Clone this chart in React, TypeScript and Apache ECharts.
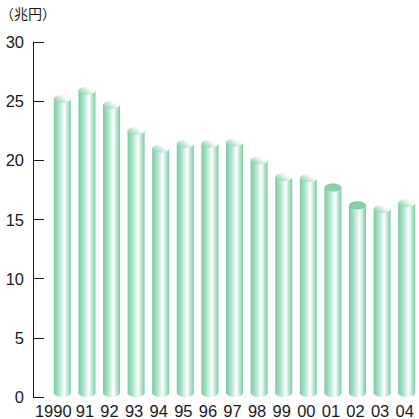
import React, { useEffect, useRef } from "react";
import * as echarts from "echarts";

const categories = ["1990", "91", "92", "93", "94", "95", "96", "97", "98", "99", "00", "01", "02", "03", "04"];
const values = [25.2, 25.9, 24.7, 22.5, 21.0, 21.4, 21.4, 21.5, 20.0, 18.6, 18.5, 17.7, 16.2, 15.9, 16.4];
const solidTopCategories = ["01", "02"];
const yTicks = [0, 5, 10, 15, 20, 25, 30];
const unitLabel = "（兆円）";

export default function App() {
  const ref = useRef<HTMLDivElement>(null);
  useEffect(() => {
    if (!ref.current) return;
    const chart = echarts.init(ref.current, undefined, { renderer: "svg" });
    const bodyGrad = () =>
      new echarts.graphic.LinearGradient(0, 0, 1, 0, [
        { offset: 0, color: "#78cca1" },
        { offset: 0.3, color: "#b0e3c8" },
        { offset: 0.62, color: "#ffffff" },
        { offset: 1, color: "#78cca1" },
      ]);
    const topGrad = () =>
      new echarts.graphic.LinearGradient(0, 0.8, 1, 0.2, [
        { offset: 0, color: "#84d0a9" },
        { offset: 0.75, color: "#ffffff" },
        { offset: 1, color: "#f2fbf6" },
      ]);
    chart.setOption({
      animation: false,
      graphic: [
        {
          type: "text",
          left: 0,
          top: 6,
          style: {
            text: unitLabel,
            font: '14px "Noto Sans CJK JP"',
            fill: "#1a1a1a",
          },
        },
      ],
      grid: { left: 50, top: 42, bottom: 22, width: 375 },
      xAxis: {
        type: "category",
        data: categories.map((c, i) =>
          i === 0
            ? { value: c, textStyle: { padding: [0, 18, 0, 0] } }
            : { value: c }
        ),
        axisLine: { show: false },
        axisTick: { show: false },
        axisLabel: {
          margin: 5,
          fontSize: 16.5,
          fontFamily: "Liberation Sans",
          color: "#1a1a1a",
          padding: [0, 4, 0, 0],
          interval: 0,
        },
      },
      yAxis: {
        type: "value",
        min: yTicks[0],
        max: yTicks[yTicks.length - 1],
        interval: 5,
        offset: 17,
        axisLine: { show: true, lineStyle: { color: "#1a1a1a", width: 1 } },
        axisTick: { show: true, inside: true, length: 11, lineStyle: { color: "#1a1a1a" } },
        axisLabel: {
          margin: 9,
          fontSize: 16.5,
          fontFamily: "Liberation Sans",
          color: "#1a1a1a",
        },
        splitLine: { show: false },
      },
      series: [
        {
          type: "custom",
          clip: false,
          encode: { x: 0, y: 1 },
          data: values.map((v, i) => [i, v]),
          renderItem: (params: any, api: any) => {
            const idx = api.value(0);
            const v = api.value(1);
            const top = api.coord([idx, v]);
            const base = api.coord([idx, 0]);
            const w = 17;
            const rx = w / 2;
            const ry = 4;
            const solid = solidTopCategories.includes(categories[idx]);
            return {
              type: "group",
              children: [
                {
                  type: "ellipse",
                  shape: { cx: top[0], cy: base[1] - ry, rx, ry },
                  style: { fill: bodyGrad() },
                },
                {
                  type: "rect",
                  shape: { x: top[0] - rx, y: top[1], width: w, height: base[1] - ry - top[1] },
                  style: { fill: bodyGrad() },
                },
                {
                  type: "ellipse",
                  shape: { cx: top[0], cy: top[1], rx, ry },
                  style: { fill: solid ? "#84cfa8" : topGrad() },
                },
              ],
            };
          },
        },
      ],
    });
    return () => chart.dispose();
  }, []);
  return (
    <div
      ref={ref}
      style={{ position: "absolute", left: 0, top: 0, width: 419, height: 419, background: "#fff" }}
    />
  );
}
